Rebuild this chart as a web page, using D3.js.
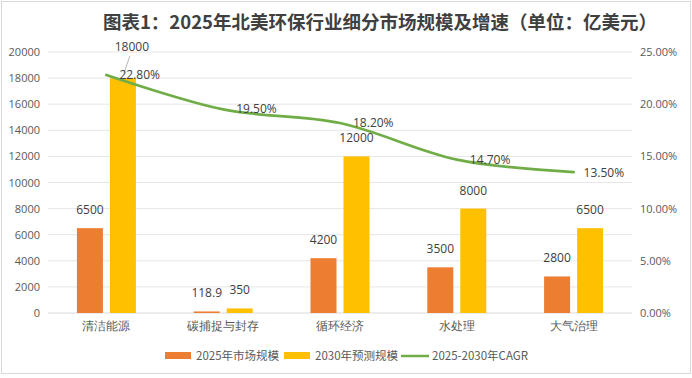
<!DOCTYPE html>
<html><head><meta charset="utf-8">
<script src="https://cdn.jsdelivr.net/npm/d3@7/dist/d3.min.js"></script>
<style>body{margin:0;background:#fff;} svg{display:block;font-family:"Noto Sans CJK SC","Microsoft YaHei",sans-serif;}</style>
</head><body><svg id="c" width="692" height="378"></svg>
<script>
const categories = ["清洁能源","碳捕捉与封存","循环经济","水处理","大气治理"];
const size2025 = [6500,118.9,4200,3500,2800];
const size2030 = [18000,350,12000,8000,6500];
const cagr = [22.80,19.50,18.20,14.70,13.50];
const leftTicks = [0,2000,4000,6000,8000,10000,12000,14000,16000,18000,20000];
const rightTicks = [0,5,10,15,20,25];

const svg = d3.select("#c");
const W=692,H=378;
svg.append("rect").attr("x",1.5).attr("y",1.5).attr("width",W-3).attr("height",H-6).attr("fill","#fff").attr("stroke","#d9d9d9");
const m={l:48,r:60,t:52,b:65};
const x=d3.scaleBand().domain(categories).range([m.l,W-m.r]);
const y=d3.scaleLinear().domain([0,20000]).range([H-m.b,m.t]);
const y2=d3.scaleLinear().domain([0,25]).range([H-m.b,m.t]);

svg.append("text").attr("x",380).attr("y",29).attr("text-anchor","middle").attr("font-size",18.5).attr("font-weight","bold").attr("fill","#404040").text("图表1：2025年北美环保行业细分市场规模及增速（单位：亿美元）");

// grid
svg.append("g").selectAll("line").data(leftTicks).join("line")
 .attr("x1",m.l).attr("x2",W-m.r).attr("y1",d=>y(d)).attr("y2",d=>y(d))
 .attr("stroke",d=>d===0?"#d9d9d9":"#e6e6e6").attr("stroke-width",1);

const la=svg.append("g").attr("transform",`translate(${m.l},0)`).call(d3.axisLeft(y).tickValues(leftTicks).tickSize(0).tickPadding(8).tickFormat(d3.format("d")));
la.select(".domain").remove();
la.selectAll("text").attr("font-size",11).attr("fill","#595959").attr("font-family","Open Sans, sans-serif");
const ra=svg.append("g").attr("transform",`translate(${W-m.r},0)`).call(d3.axisRight(y2).tickValues(rightTicks).tickSize(0).tickPadding(8).tickFormat(d=>d.toFixed(2)+"%"));
ra.select(".domain").remove();
ra.selectAll("text").attr("font-size",11).attr("fill","#595959").attr("font-family","Open Sans, sans-serif");

const xa=svg.append("g").attr("transform",`translate(0,${H-m.b})`).call(d3.axisBottom(x).tickSize(0).tickPadding(8));
xa.select(".domain").remove();
xa.selectAll("text").attr("font-size",12).attr("fill","#595959");

const bw=26, gap=7;
const cx=d=>x(d)+x.bandwidth()/2;
const g=svg.append("g");
g.selectAll(".b1").data(categories).join("rect").attr("fill","#ED7D31")
 .attr("x",(d)=>cx(d)-gap/2-bw).attr("width",bw)
 .attr("y",(d,i)=>y(size2025[i])).attr("height",(d,i)=>y(0)-y(size2025[i]));
g.selectAll(".b2").data(categories).join("rect").attr("fill","#FFC000")
 .attr("x",(d)=>cx(d)+gap/2).attr("width",bw)
 .attr("y",(d,i)=>y(size2030[i])).attr("height",(d,i)=>y(0)-y(size2030[i]));
g.selectAll(".l1").data(categories).join("text").attr("text-anchor","middle").attr("font-size",12).attr("fill","#404040").attr("font-family","Open Sans, sans-serif")
 .attr("x",d=>cx(d)-gap/2-bw/2).attr("y",(d,i)=>y(size2025[i])-14).text((d,i)=>size2025[i]);
g.selectAll(".l2").data(categories).join("text").attr("text-anchor","middle").attr("font-size",12).attr("fill","#404040").attr("font-family","Open Sans, sans-serif")
 .attr("x",d=>cx(d)+gap/2+bw/2+(d===categories[0]?9:0)).attr("y",(d,i)=>i===0?51:y(size2030[i])-14).text((d,i)=>size2030[i]);
// leader line for the moved first label
const lx=cx(categories[0])+gap/2+bw/2;
svg.append("line").attr("x1",lx+7).attr("y1",56).attr("x2",lx+1).attr("y2",y(size2030[0])-5).attr("stroke","#a6a6a6").attr("stroke-width",0.8);

const line=d3.line().x((d,i)=>cx(categories[i])).y(d=>y2(d)).curve(d3.curveCardinal.tension(0));
svg.append("path").datum(cagr).attr("d",line).attr("fill","none").attr("stroke","#70AD47").attr("stroke-width",2.75).attr("stroke-linecap","round");
svg.append("g").selectAll("text").data(cagr).join("text").attr("font-size",12).attr("fill","#404040").attr("font-family","Open Sans, sans-serif")
 .attr("x",(d,i)=>cx(categories[i])+(i===4?10:13)).attr("y",(d,i)=>y2(d)+(i===4?5:4)).text(d=>d.toFixed(2)+"%");

// legend
const lg=svg.append("g").attr("transform","translate(0,356)");
const items=[{t:"2025年市场规模",c:"#ED7D31",type:"r",x:165},{t:"2030年预测规模",c:"#FFC000",type:"r",x:284},{t:"2025-2030年CAGR",c:"#70AD47",type:"l",x:401}];
items.forEach(it=>{
 if(it.type==="r") lg.append("rect").attr("x",it.x).attr("y",-4).attr("width",26).attr("height",7).attr("fill",it.c);
 else lg.append("line").attr("x1",it.x).attr("x2",it.x+28).attr("y1",0).attr("y2",0).attr("stroke",it.c).attr("stroke-width",2.5);
 lg.append("text").attr("x",it.x+31).attr("y",4).attr("font-size",11.5).attr("fill","#595959").text(it.t);
});
</script></body></html>
